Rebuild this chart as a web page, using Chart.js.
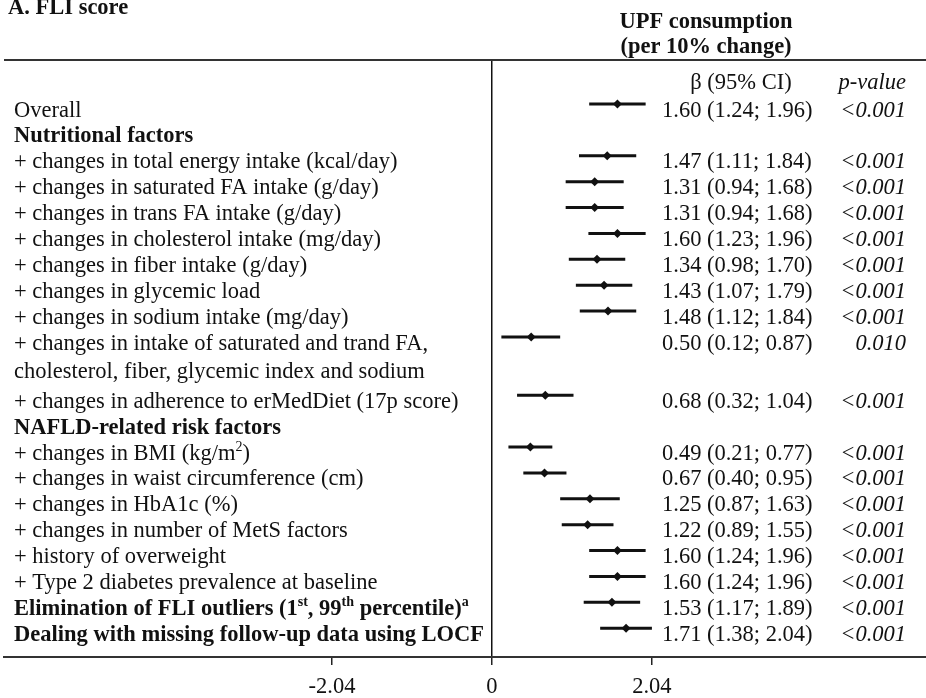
<!DOCTYPE html>
<html>
<head>
<meta charset="utf-8">
<script src="https://cdn.jsdelivr.net/npm/chart.js@4.4.1/dist/chart.umd.min.js"></script>
<style>
  html, body { margin: 0; padding: 0; background: #fff; }
  #wrap { position: relative; width: 926px; height: 698px; }
</style>
</head>
<body>
<div id="wrap"><canvas id="forest"></canvas></div>
<script>
// ---- data ----
const rowLabels = [
  "Overall",
  "Nutritional factors",
  "+ changes in total energy intake (kcal/day)",
  "+ changes in saturated FA intake (g/day)",
  "+ changes in trans FA intake (g/day)",
  "+ changes in cholesterol intake (mg/day)",
  "+ changes in fiber intake (g/day)",
  "+ changes in glycemic load",
  "+ changes in sodium intake (mg/day)",
  ["+ changes in intake of saturated and trand FA,", "cholesterol, fiber, glycemic index and sodium"],
  "+ changes in adherence to erMedDiet (17p score)",
  "NAFLD-related risk factors",
  "+ changes in BMI (kg/m^2^)",
  "+ changes in waist circumference (cm)",
  "+ changes in HbA1c (%)",
  "+ changes in number of MetS factors",
  "+ history of overweight",
  "+ Type 2 diabetes prevalence at baseline",
  "Elimination of FLI outliers (1^st^, 99^th^ percentile)^a^",
  "Dealing with missing follow-up data using LOCF",
];
const beta   = [1.60, null, 1.47, 1.31, 1.31, 1.60, 1.34, 1.43, 1.48, 0.50, 0.68, null, 0.49, 0.67, 1.25, 1.22, 1.60, 1.60, 1.53, 1.71];
const ciLow  = [1.24, null, 1.11, 0.94, 0.94, 1.23, 0.98, 1.07, 1.12, 0.12, 0.32, null, 0.21, 0.40, 0.87, 0.89, 1.24, 1.24, 1.17, 1.38];
const ciHigh = [1.96, null, 1.84, 1.68, 1.68, 1.96, 1.70, 1.79, 1.84, 0.87, 1.04, null, 0.77, 0.95, 1.63, 1.55, 1.96, 1.96, 1.89, 2.04];
const pValues = ["<0.001", null, "<0.001", "<0.001", "<0.001", "<0.001", "<0.001", "<0.001", "<0.001", "0.010",
                 "<0.001", null, "<0.001", "<0.001", "<0.001", "<0.001", "<0.001", "<0.001", "<0.001", "<0.001"];
const xTickValues = [-2.04, 0, 2.04];

const panelTitle = "A. FLI score";
const exposureTitle = ["UPF consumption", "(per 10% change)"];
const colHeaders = ["\u03b2 (95% CI)", "p-value"];

// ---- look ----
const INK = "#111";
const FONT = '"Liberation Serif", "Times New Roman", serif';
const FS = 22.5;
const SX = 1;
const BOLD_ROWS = [1, 11, 18, 19];
const LINE_GAP = 28;           // px between lines of a wrapped label

// row slots: wrapped labels take a little more room
const rowPos = (() => {
  let y = 0;
  return rowLabels.map(l => {
    const here = y;
    const n = Array.isArray(l) ? l.length : 1;
    y += 1 + (n - 1) * 1.25;
    return here;
  });
})();

function fontFor(o, sup) {
  const size = sup ? Math.round(FS * 0.62) : FS;
  return `${o.italic ? "italic " : ""}${o.bold ? "bold " : ""}${size}px ${FONT}`;
}

// text with ^sup^ pieces
function drawRich(ctx, text, x, y, o = {}) {
  const segs = text.split("^").map((s, i) => ({ s, sup: i % 2 === 1 })).filter(p => p.s);
  ctx.save();
  ctx.translate(x, y);
  ctx.scale(SX, 1);
  let w = 0;
  segs.forEach(p => { ctx.font = fontFor(o, p.sup); p.w = ctx.measureText(p.s).width; w += p.w; });
  let cx = o.align === "right" ? -w : o.align === "center" ? -w / 2 : 0;
  ctx.textAlign = "left";
  ctx.textBaseline = "alphabetic";
  ctx.fillStyle = INK;
  segs.forEach(p => {
    ctx.font = fontFor(o, p.sup);
    ctx.fillText(p.s, cx, p.sup ? -FS * 0.38 : 0);
    cx += p.w;
  });
  ctx.restore();
}

const fmt = v => v.toFixed(2);

const textLayer = {
  id: "textLayer",
  afterDraw(chart) {
    const { ctx, chartArea, scales } = chart;
    // top rule
    ctx.save();
    ctx.strokeStyle = "#333";
    ctx.lineWidth = 2;
    ctx.beginPath();
    ctx.moveTo(chartArea.left, chartArea.top);
    ctx.lineTo(chartArea.right, chartArea.top);
    ctx.stroke();
    ctx.restore();

    drawRich(ctx, panelTitle, 8, 14, { bold: true });
    drawRich(ctx, exposureTitle[0], 706, 28, { bold: true, align: "center" });
    drawRich(ctx, exposureTitle[1], 706, 53, { bold: true, align: "center" });
    drawRich(ctx, colHeaders[0], 741, 89, { align: "center" });
    drawRich(ctx, colHeaders[1], 906, 89, { italic: true, align: "right" });

    rowLabels.forEach((lab, i) => {
      const base = scales.y.getPixelForValue(rowPos[i]) + 12.5;
      const bold = BOLD_ROWS.includes(i);
      const lines = Array.isArray(lab) ? lab : [lab];
      lines.forEach((ln, k) => drawRich(ctx, ln, 14, base + k * LINE_GAP, { bold }));
      if (beta[i] !== null) {
        drawRich(ctx, `${fmt(beta[i])} (${fmt(ciLow[i])}; ${fmt(ciHigh[i])})`, 662, base);
        drawRich(ctx, pValues[i], 906, base, { italic: true, align: "right" });
      }
    });
  }
};

const idx = beta.map((b, i) => i).filter(i => beta[i] !== null);
// CI whiskers as one broken line: lo -> hi, then a gap
const ciPoints = idx.flatMap(i => [
  { x: ciLow[i], y: rowPos[i] },
  { x: ciHigh[i], y: rowPos[i] },
  { x: null, y: null },
]);

new Chart(document.getElementById("forest"), {
  type: "scatter",
  data: {
    datasets: [
      {
        data: ciPoints,
        showLine: true,
        spanGaps: false,
        borderColor: INK,
        borderWidth: 3,
        pointRadius: 0,
      },
      {
        data: idx.map(i => ({ x: beta[i], y: rowPos[i] })),
        pointStyle: "rectRot",
        pointRadius: 4.5,
        backgroundColor: INK,
        borderWidth: 0,
      },
    ],
  },
  options: {
    responsive: true,
    maintainAspectRatio: false,
    devicePixelRatio: 1,
    animation: false,
    layout: { autoPadding: false, padding: { top: 60, left: 4, right: 0, bottom: 0 } },
    plugins: { legend: { display: false }, tooltip: { enabled: false } },
    scales: {
      x: {
        type: "linear",
        min: -6.224,
        max: 5.536,
        afterBuildTicks: s => { s.ticks = xTickValues.map(v => ({ value: v })); },
        afterFit: s => { s.height = 41; },
        ticks: {
          color: INK,
          padding: 9,
          font: { family: FONT, size: 22.5 },
          callback: v => (v === 0 ? "0" : v.toFixed(2)),
        },
        grid: {
          drawOnChartArea: true,
          color: c => (c.tick && c.tick.value === 0 ? INK : "rgba(0,0,0,0)"),
          tickColor: "#222",
          tickLength: 8,
          lineWidth: 1.5,
        },
        border: { display: true, color: "#333", width: 2 },
      },
      y: {
        type: "linear",
        reverse: true,
        offset: false,
        min: -1.70,
        max: 21.36,
        display: false,
      },
    },
  },
  plugins: [textLayer],
});
</script>
</body>
</html>
